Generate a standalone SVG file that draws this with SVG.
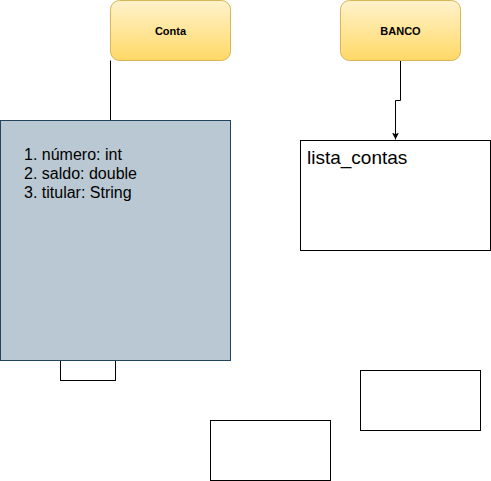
<svg xmlns="http://www.w3.org/2000/svg" width="491" height="481" viewBox="0 0 491 481">
<defs>
<linearGradient id="yg" x1="0" y1="0" x2="0" y2="1">
<stop offset="0" stop-color="#fff2cc"/>
<stop offset="1" stop-color="#ffd966"/>
</linearGradient>
<marker id="arr" viewBox="0 0 10 10" refX="10" refY="5" markerWidth="7" markerHeight="7" markerUnits="userSpaceOnUse" orient="auto">
<path d="M0,0 L10,5 L0,10 L2.5,5 Z" fill="#000"/>
</marker>
<style>
.cls{fill:url(#yg);stroke:#d6b656;stroke-width:1}
.lbl{font-family:"Liberation Sans",Arial,sans-serif;font-size:11px;font-weight:bold;fill:#000;text-anchor:middle}
.box{fill:#fff;stroke:#000;stroke-width:1}
.edge{fill:none;stroke:#000;stroke-width:1}
.txt{font-family:"Liberation Sans",Arial,sans-serif;fill:#000}
</style>
</defs>
<rect width="491" height="481" fill="#fff"/>
<g id="connectors">
<path class="edge" d="M110.5,60.5 L110.5,120.5"/>
<path class="edge" d="M400.5,60.5 L400.5,100.5 L395.5,100.5 L395.5,139.5" marker-end="url(#arr)"/>
</g>
<g id="small-box">
<rect class="box" x="60.5" y="340.5" width="55" height="40"/>
</g>
<g id="conta-attrs">
<rect x="0.5" y="120.5" width="230" height="240" fill="#bac8d3" stroke="#23445d"/>
<text class="txt" font-size="16" x="24" y="159.5">1. número: int</text>
<text class="txt" font-size="16" x="24" y="178.5">2. saldo: double</text>
<text class="txt" font-size="16" x="24" y="197.5">3. titular: String</text>
</g>
<g id="conta">
<rect class="cls" x="110.5" y="0.5" width="120" height="60" rx="9"/>
<text class="lbl" x="170.5" y="35">Conta</text>
</g>
<g id="banco">
<rect class="cls" x="340.5" y="0.5" width="120" height="60" rx="9"/>
<text class="lbl" x="400.5" y="35">BANCO</text>
</g>
<g id="lista-contas">
<rect class="box" x="300.5" y="140.5" width="190" height="110"/>
<text class="txt" font-size="19" x="307" y="164">lista_contas</text>
</g>
<g id="box-a">
<rect class="box" x="360.5" y="370.5" width="120" height="60"/>
</g>
<g id="box-b">
<rect class="box" x="210.5" y="420.5" width="120" height="60"/>
</g>
</svg>
